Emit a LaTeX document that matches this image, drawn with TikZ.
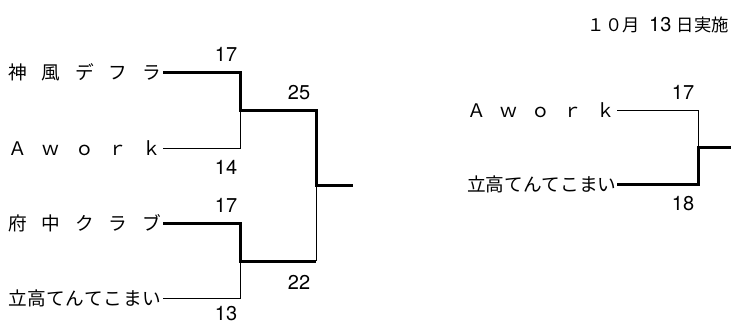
\documentclass[tikz,border=0pt]{standalone}
\usepackage{fontspec}
\setmainfont{TeX Gyre Heros}
\newfontfamily\jpfont{Noto Sans CJK JP}
\usetikzlibrary{positioning,calc}

\begin{document}
\begin{tikzpicture}[
  x=0.75pt, y=-0.75pt,
  team/.style={anchor=east, inner sep=0pt, outer sep=1.5pt,
    font=\jpfont\fontsize{14}{14}\selectfont},
  score/.style={inner sep=0pt, font=\fontsize{15}{15}\selectfont},
  win/.style={line width=2.25pt},
  lose/.style={line width=0.7pt},
]
  \useasboundingbox (0,0) rectangle (731,325);

  % column positions (px)
  \def\ra{240}  % first round turn
  \def\rb{316}  % second round turn
  \def\wl{114.75pt} % width of left names
  \def\wr{111pt}    % width of right names

  % date
  \node[anchor=east, inner sep=0pt, font=\fontsize{15}{15}\selectfont] (date) at (729,25)
    {{\jpfont\fontsize{13}{13}\selectfont １０月}\hspace{7pt}13\hspace{4pt}{\jpfont\fontsize{13}{13}\selectfont 日実施}};

  % left bracket: teams
  \node[team] (kamikaze) at (163,72) {\hbox to \wl{神\hfill 風\hfill デ\hfill フ\hfill ラ}};
  \node[team] (awork) at (163,148) {\hbox to \wl{Ａ\hfill ｗ\hfill ｏ\hfill ｒ\hfill ｋ}};
  \node[team] (fuchu) at (163,223) {\hbox to \wl{府\hfill 中\hfill ク\hfill ラ\hfill ブ}};
  \node[team] (tatedaka) at (163,298) {\hbox to \wl{立\hfill 高\hfill て\hfill ん\hfill て\hfill こ\hfill ま\hfill い}};

  \coordinate (semiA) at (\ra,110);
  \coordinate (semiB) at (\ra,261);
  \coordinate (semiB-turn) at (\rb,261);
  \coordinate (final) at (\rb,185);
  \coordinate (champ) at (353,185);

  % left bracket: lines
  \draw[win] (kamikaze) -| (semiA) -| (final) -- (champ);
  \draw[lose] (awork) -| (semiA);
  \draw[win] (fuchu) -| (semiB) -- (semiB-turn);
  \draw[lose] (semiB-turn) -- (final);
  \draw[lose] (tatedaka) -| (semiB);

  % left bracket: scores
  \node[score] (sc1) at (226,54) {17};
  \node[score] (sc2) at (226,167) {14};
  \node[score] (sc3) at (226,205) {17};
  \node[score] (sc4) at (226,314) {13};
  \node[score] (sc5) at (299,93) {25};
  \node[score] (sc6) at (299,282) {22};

  % right bracket
  \node[team] (awork2) at (617,110) {\hbox to \wr{Ａ\hfill ｗ\hfill ｏ\hfill ｒ\hfill ｋ}};
  \node[team] (tatedaka2) at (617,184) {\hbox to \wr{立\hfill 高\hfill て\hfill ん\hfill て\hfill こ\hfill ま\hfill い}};

  \coordinate (finalR) at (698,147);
  \coordinate (champR) at (735,147);

  \draw[lose] (awork2) -| (finalR);
  \draw[win] (tatedaka2) -| (finalR) -- (champR);

  \node[score] (sc7) at (683,92) {17};
  \node[score] (sc8) at (683,204) {18};
\end{tikzpicture}
\end{document}
